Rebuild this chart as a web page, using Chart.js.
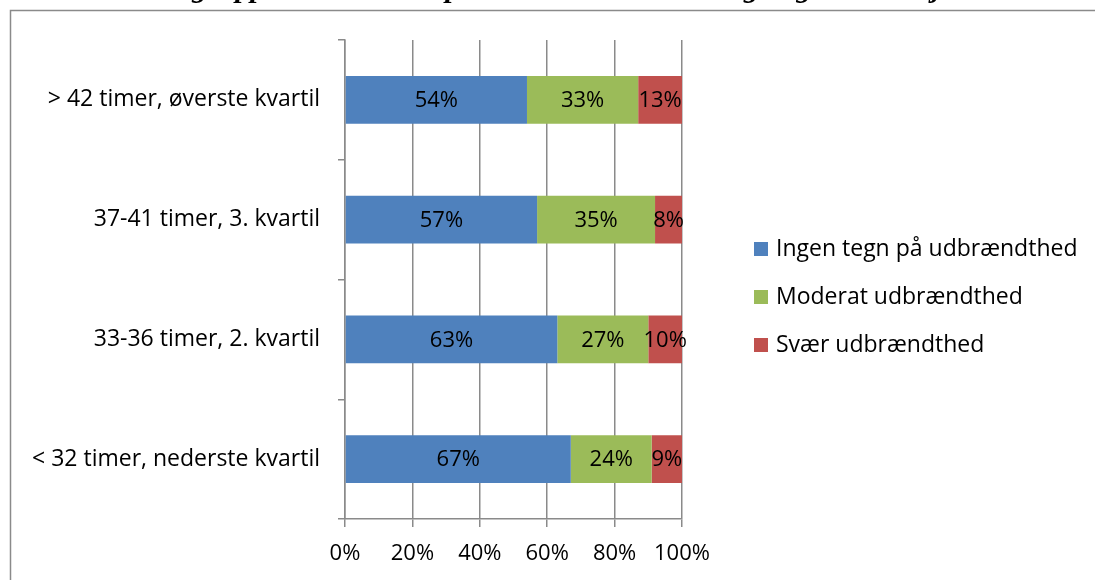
<!DOCTYPE html>
<html>
<head>
<meta charset="utf-8">
<script src="https://cdn.jsdelivr.net/npm/chart.js@4.4.1/dist/chart.umd.min.js"></script>
<style>
  html, body { margin: 0; padding: 0; background: #fff; }
  #wrap { width: 1095px; height: 580px; }
</style>
</head>
<body>
<div id="wrap"><canvas id="chart" width="1095" height="580"></canvas></div>
<script>
const titleText = "Timegrupper med timer i procent: udbrændthed og læger i deres job";
const categories = [
    "> 42 timer, øverste kvartil",
    "37-41 timer, 3. kvartil",
    "33-36 timer, 2. kvartil",
    "< 32 timer, nederste kvartil"
];
const seriesNames = ["Ingen tegn på udbrændthed", "Moderat udbrændthed", "Svær udbrændthed"];
const ingenTegn = [54, 57, 63, 67];
const moderat = [33, 35, 27, 24];
const svaer = [13, 8, 10, 9];
const xTicks = [0, 20, 40, 60, 80, 100];
const colors = ["#4f81bd", "#9bbb59", "#c0504d"];

const font = "'Open Sans', 'Noto Sans', sans-serif";
const labelSize = 23;
const numberSize = 22;
const lineGrey = "#8a8a8a";

// outer frame and the title, mostly cut off by the top edge
const framePlugin = {
    id: "frame",
    beforeDraw(chart) {
        const ctx = chart.ctx;
        ctx.save();
        ctx.fillStyle = "#fff";
        ctx.fillRect(0, 0, chart.width, chart.height);
        ctx.font = "italic bold 30px 'Liberation Serif', serif";
        ctx.fillStyle = "#000";
        ctx.textBaseline = "alphabetic";
        ctx.textAlign = "left";
        ctx.fillText(titleText, 130, -3);
        ctx.strokeStyle = lineGrey;
        ctx.lineWidth = 1.5;
        ctx.beginPath();
        ctx.moveTo(10.5, chart.height);
        ctx.lineTo(10.5, 10.5);
        ctx.lineTo(chart.width, 10.5);
        ctx.stroke();
        ctx.restore();
    }
};

// percentage written in the middle of each segment
const valueLabels = {
    id: "valueLabels",
    afterDatasetsDraw(chart) {
        const ctx = chart.ctx;
        ctx.save();
        ctx.font = numberSize + "px " + font;
        ctx.fillStyle = "#000";
        ctx.textAlign = "center";
        ctx.textBaseline = "middle";
        chart.data.datasets.forEach((ds, i) => {
            chart.getDatasetMeta(i).data.forEach((bar, j) => {
                ctx.fillText(ds.data[j] + "%", (bar.x + bar.base) / 2, bar.y + 1);
            });
        });
        ctx.restore();
    }
};

// legend to the right of the plot
const sideLegend = {
    id: "sideLegend",
    afterDraw(chart) {
        const ctx = chart.ctx;
        ctx.save();
        ctx.font = labelSize + "px " + font;
        ctx.textBaseline = "middle";
        ctx.textAlign = "left";
        chart.data.datasets.forEach((ds, i) => {
            const y = 249 + i * 48;
            ctx.fillStyle = ds.backgroundColor;
            ctx.fillRect(754, y - 7, 14, 14);
            ctx.fillStyle = "#000";
            ctx.fillText(ds.label, 776, y);
        });
        ctx.restore();
    }
};

new Chart(document.querySelector("#chart"), {
    type: "bar",
    data: {
        labels: categories,
        datasets: [
            { label: seriesNames[0], data: ingenTegn, backgroundColor: colors[0] },
            { label: seriesNames[1], data: moderat, backgroundColor: colors[1] },
            { label: seriesNames[2], data: svaer, backgroundColor: colors[2] }
        ]
    },
    options: {
        indexAxis: "y",
        responsive: false,
        animation: false,
        categoryPercentage: 0.4,
        barPercentage: 1,
        layout: { padding: { top: 40, right: 413, left: 0, bottom: 0 } },
        plugins: {
            legend: { display: false },
            tooltip: { enabled: false }
        },
        scales: {
            x: {
                stacked: true,
                min: 0,
                max: 100,
                afterBuildTicks: scale => { scale.ticks = xTicks.map(v => ({ value: v })); },
                afterFit: scale => { scale.height = 61; },
                ticks: {
                    callback: v => v + "%",
                    color: "#000",
                    font: { family: font, size: numberSize },
                    padding: 14,
                    maxRotation: 0
                },
                grid: { color: lineGrey, lineWidth: 1.5, tickLength: 8 },
                border: { color: lineGrey, width: 1.5 }
            },
            y: {
                stacked: true,
                afterFit: scale => { scale.width = 345; },
                ticks: {
                    color: "#000",
                    font: { family: font, size: labelSize },
                    padding: 18
                },
                grid: { drawOnChartArea: false, color: lineGrey, lineWidth: 1.5, tickLength: 7, offset: true },
                border: { color: lineGrey, width: 1.5 }
            }
        }
    },
    plugins: [framePlugin, valueLabels, sideLegend]
});
</script>
</body>
</html>
